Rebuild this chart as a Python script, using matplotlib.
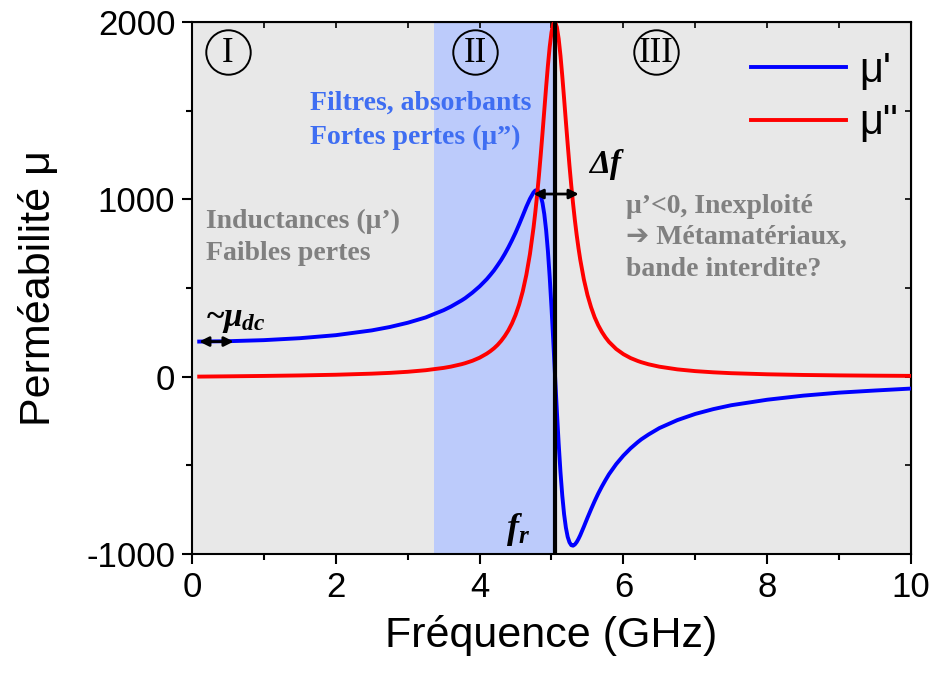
import matplotlib
matplotlib.use("Agg")
import matplotlib.pyplot as plt
from matplotlib.ticker import MultipleLocator

plt.rcParams['font.family'] = ['Liberation Sans', 'DejaVu Sans']
plt.rcParams['axes.unicode_minus'] = False
plt.rcParams['mathtext.fontset'] = 'custom'
plt.rcParams['mathtext.it'] = 'Liberation Serif:italic:bold'
plt.rcParams['mathtext.rm'] = 'Liberation Serif:bold'
plt.rcParams['mathtext.bf'] = 'Liberation Serif:bold'

# frequence (GHz) et permeabilite
freq = [0.1, 0.5, 1.0, 1.5, 2.0, 2.5, 2.75, 3.0, 3.25, 3.5, 3.6, 3.75, 3.8, 3.9,
        4.0, 4.1, 4.15, 4.2, 4.25, 4.3, 4.35, 4.4, 4.45,
        4.5, 4.55, 4.6, 4.65, 4.7, 4.75, 4.775, 4.8, 4.825, 4.85, 4.875, 4.9,
        4.925, 4.95, 4.975, 5.0, 5.025, 5.05, 5.075, 5.1, 5.125, 5.15, 5.175,
        5.2, 5.225, 5.25, 5.275, 5.3, 5.325, 5.35, 5.375, 5.4, 5.45, 5.5, 5.55,
        5.6, 5.65, 5.7, 5.75, 5.8, 5.9, 6.0, 6.1, 6.2, 6.25, 6.35, 6.5, 6.75,
        7.0, 7.25, 7.5, 8.0, 8.5, 9.0, 9.5, 10.0]
mu_real = [198, 200, 206, 217, 234, 261, 280, 304, 334, 375, 395, 430, 443, 474,
           509, 550, 574, 599, 628, 658, 692, 729, 769,
           812, 859, 908, 958, 1003, 1039, 1050, 1052, 1043, 1020, 979, 916,
           827, 709, 562, 390, 200, 0, -197, -379, -539, -671, -775,
           -851, -903, -934, -950, -953, -946, -933, -915, -894, -846, -796, -748,
           -702, -659, -620, -584, -550, -493, -445, -404, -369, -353, -326, -290, -245,
           -210, -183, -161, -130, -107, -90, -78, -67]
mu_imag = [0.4, 2.0, 4.2, 7.0, 10.9, 17.0, 21.4, 27.6, 36.4, 49.5, 56.6, 70.5, 76.2, 89.7,
           107, 130, 144, 160, 179, 202, 229, 261, 300,
           348, 407, 481, 574, 691, 840, 928, 1025, 1133, 1250, 1374, 1503,
           1632, 1754, 1860, 1942, 1990, 2000, 1971, 1905, 1810, 1695, 1569,
           1439, 1312, 1190, 1078, 976, 883, 800, 726, 660, 549, 461, 392,
           335, 290, 253, 222, 196, 156, 127, 105, 88.5, 81.5, 69.8, 56.4, 41.2,
           31.3, 24.6, 19.7, 13.5, 9.7, 7.3, 5.7, 4.5]

f_res = 5.05
zone_II = (3.37, 5.03)
mu_dc_span = (0.1, 0.58, 198)
delta_f_span = (4.75, 5.38, 1030)

fig = plt.figure(figsize=(9.33, 6.73), dpi=100)
ax = fig.add_axes([0.2058, 0.1768, 0.7706, 0.7905])

ax.axvspan(0, 10, color='#e8e8e8', lw=0, zorder=0)
ax.axvspan(zone_II[0], zone_II[1], color='#bccbfb', lw=0, zorder=0)

ax.plot(freq, mu_real, color='#0000ff', lw=2.8, label="μ'", zorder=3)
ax.plot(freq, mu_imag, color='#ff0000', lw=2.8, label='μ"', zorder=3)
ax.axvline(f_res, color='black', lw=3, zorder=4)

ax.set_xlim(0, 10)
ax.set_ylim(-1000, 2000)
ax.xaxis.set_major_locator(MultipleLocator(2))
ax.xaxis.set_minor_locator(MultipleLocator(1))
ax.yaxis.set_major_locator(MultipleLocator(1000))
ax.yaxis.set_minor_locator(MultipleLocator(500))
ax.tick_params(which='major', direction='out', length=7, width=1.5, labelsize=25, pad=5)
ax.tick_params(which='minor', direction='out', length=4, width=1.5)
for s in ax.spines.values():
    s.set_linewidth(1.5)

top = ax.secondary_xaxis('top')
top.xaxis.set_major_locator(MultipleLocator(1))
top.tick_params(direction='in', length=4, width=1.2, labeltop=False)
right = ax.secondary_yaxis('right')
right.yaxis.set_major_locator(MultipleLocator(500))
right.tick_params(direction='in', length=4, width=1.2, labelright=False)

ax.set_xlabel('Fréquence (GHz)', fontsize=31, labelpad=8)
ax.set_ylabel('Perméabilité μ', fontsize=31, labelpad=20)

# numeros de zones entoures
for lab, xc in [('I', 0.5), ('II', 3.94), ('III', 6.46)]:
    ax.plot(xc, 1830, marker='o', ms=32, mfc='none', mec='black', mew=1.4, zorder=5)
    ax.text(xc, 1825, lab, family='Liberation Serif', fontsize=25,
            ha='center', va='center', zorder=5)

serif = ['Liberation Serif', 'DejaVu Sans']
blue_txt = '#3f6ef2'
grey_txt = '#808080'
ax.text(1.64, 1545, 'Filtres, absorbants', family=serif, weight='bold',
        fontsize=20, color=blue_txt, va='center')
ax.text(1.64, 1348, 'Fortes pertes (μ”)', family=serif, weight='bold',
        fontsize=20, color=blue_txt, va='center')
ax.text(0.2, 876, 'Inductances (μ’)', family=serif, weight='bold',
        fontsize=20, color=grey_txt, va='center')
ax.text(0.2, 694, 'Faibles pertes', family=serif, weight='bold',
        fontsize=20, color=grey_txt, va='center')
ax.text(6.03, 960, 'μ’<0, Inexploité', family=serif, weight='bold',
        fontsize=20, color=grey_txt, va='center')
ax.text(6.03, 784, '➔ Métamatériaux,', family=serif, weight='bold',
        fontsize=20, color=grey_txt, va='center')
ax.text(6.03, 603, 'bande interdite?', family=serif, weight='bold',
        fontsize=20, color=grey_txt, va='center')

ax.text(5.52, 1196, 'Δf', family=serif, weight='bold', style='italic',
        fontsize=24, va='center', zorder=5)
ax.text(0.2, 321, r'~$\mu_{dc}$', family=serif, weight='bold',
        fontsize=24, va='center', zorder=5)
ax.text(4.53, -863, r'$f_r$', fontsize=26, ha='center', va='center', zorder=5)

arrow = dict(arrowstyle='<|-|>', lw=2, color='black', mutation_scale=14,
             shrinkA=0, shrinkB=0)
ax.annotate('', xy=(mu_dc_span[0], mu_dc_span[2]), xytext=(mu_dc_span[1], mu_dc_span[2]),
            arrowprops=arrow, zorder=6)
ax.annotate('', xy=(delta_f_span[0], delta_f_span[2]), xytext=(delta_f_span[1], delta_f_span[2]),
            arrowprops=arrow, zorder=6)

ax.legend(loc='upper left', bbox_to_anchor=(0.748, 0.985), frameon=False,
          fontsize=30, handlelength=2.3, handletextpad=0.3, labelspacing=0.3,
          borderpad=0)

fig.savefig('out.png', dpi=100)
